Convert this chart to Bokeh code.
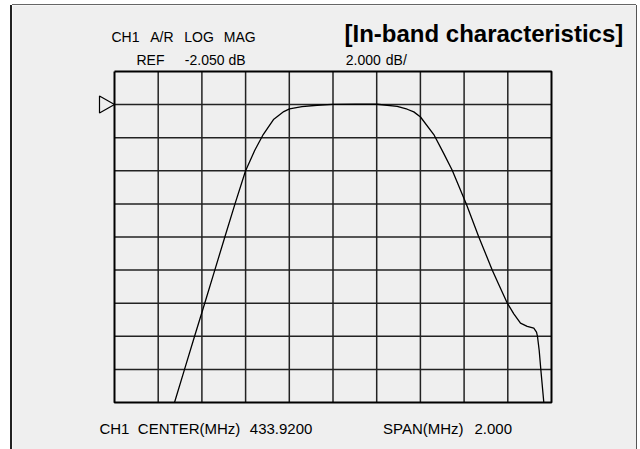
from bokeh.plotting import figure
from bokeh.models import Label
from bokeh.embed import file_html
from bokeh.resources import INLINE

# ---- instrument settings ----
CENTER_MHZ = 433.92
SPAN_MHZ = 2.0
REF_DB = -2.050
SCALE_DB = 2.0
REF_DIV = 1          # reference line is one division below the top
N_DIV = 10

# ---- measured trace (MHz, dB) ----
freq_mhz = [433.1946, 433.2405, 433.2865, 433.3330, 433.3790, 433.4250,
            433.4715, 433.5195, 433.5621, 433.6006, 433.6491, 433.6948, 433.7209,
            433.7781, 433.8477, 433.9177, 434.0230, 434.1223, 434.2138, 434.2596,
            434.2898, 434.3205, 434.3814, 434.4271, 434.4656, 434.5310, 434.5873,
            434.6486, 434.6770, 434.7173, 434.7475, 434.7781, 434.8088, 434.8390,
            434.8514, 434.8559, 434.8637, 434.8710, 434.8848]
mag_db = [-20.05, -18.05, -16.05, -14.05, -12.05, -10.05,
          -8.05, -6.06, -4.81, -3.86, -2.93, -2.47, -2.31,
          -2.17, -2.09, -2.04, -2.02, -2.03, -2.16, -2.33,
          -2.49, -2.80, -3.86, -5.01, -6.02, -8.08, -10.05,
          -12.04, -12.87, -14.04, -14.69, -15.25, -15.45, -15.56,
          -15.80, -16.06, -16.91, -18.04, -20.05]

header_words = ["CH1", "A/R", "LOG", "MAG"]
ref_words = ["REF", f"{REF_DB:.3f} dB"]
scale_words = [f"{SCALE_DB:.3f}", "dB/"]
footer_words = ["CH1", "CENTER(MHz)", f"{CENTER_MHZ:.4f}", "SPAN(MHz)", f"{SPAN_MHZ:.3f}"]
title_text = "[In-band characteristics]"

# ---- derived ranges ----
F_START = CENTER_MHZ - SPAN_MHZ / 2
F_STOP = CENTER_MHZ + SPAN_MHZ / 2
TOP_DB = REF_DB + REF_DIV * SCALE_DB
BOT_DB = TOP_DB - N_DIV * SCALE_DB

# ---- layout (page pixels) ----
FIG_X0, FIG_Y0 = 12, 5
FIG_W, FIG_H = 624, 444
GRID_L, GRID_T, GRID_W, GRID_H = 114, 71, 437, 331


def fx(px):
    return F_START + (px - GRID_L) / GRID_W * SPAN_MHZ


def fy(py):
    return TOP_DB - (py - GRID_T) / GRID_H * (N_DIV * SCALE_DB)


p = figure(width=FIG_W, height=FIG_H,
           x_range=(fx(FIG_X0), fx(FIG_X0 + FIG_W)),
           y_range=(fy(FIG_Y0 + FIG_H), fy(FIG_Y0)),
           output_backend="svg", toolbar_location=None,
           x_axis_location=None, y_axis_location=None,
           min_border=0, outline_line_color=None,
           background_fill_color="#efefef", border_fill_color="#efefef")
p.grid.visible = False
p.styles = {"margin-left": f"{FIG_X0}px", "margin-top": f"{FIG_Y0}px",
            "box-shadow": "-2px 0 0 0 #222, 0 -1px 0 0 #666, 1px 0 0 0 #555"}

# graticule
xticks = [F_START + i * SPAN_MHZ / N_DIV for i in range(N_DIV + 1)]
yticks = [BOT_DB + i * SCALE_DB for i in range(N_DIV + 1)]
p.segment(x0=xticks[1:-1], y0=[BOT_DB] * (N_DIV - 1), x1=xticks[1:-1], y1=[TOP_DB] * (N_DIV - 1),
          line_color="#222222", line_width=1.5)
p.segment(x0=[F_START] * (N_DIV - 1), y0=yticks[1:-1], x1=[F_STOP] * (N_DIV - 1), y1=yticks[1:-1],
          line_color="#222222", line_width=1.5)
p.line([F_START, F_STOP, F_STOP, F_START, F_START], [TOP_DB, TOP_DB, BOT_DB, BOT_DB, TOP_DB],
       line_color="black", line_width=2)

# trace
p.line(freq_mhz, mag_db, line_color="black", line_width=1.3)

# reference marker
tri_w = 15 / GRID_W * SPAN_MHZ
tri_h = 8.5 / GRID_H * (N_DIV * SCALE_DB)
p.patch([F_START - tri_w, F_START, F_START - tri_w], [REF_DB + tri_h, REF_DB, REF_DB - tri_h],
        fill_alpha=0, line_color="black", line_width=1.2)

FONT = "Liberation Sans"


def put(words, xs, y, size, bold=False):
    for w, x in zip(words, xs):
        p.add_layout(Label(x=fx(x), y=fy(y), text=w, text_font=FONT,
                           text_font_size=size, text_color="black",
                           text_font_style="bold" if bold else "normal",
                           text_align="left", text_baseline="middle"))


put(header_words, [111, 149.7, 183.7, 223.3], 36, "14px")
put(ref_words, [136, 184.3], 59.5, "14px")
put(scale_words, [345.3, 385.3], 59.5, "14px")
put(footer_words, [98.9, 137.3, 249.3, 382.5, 474], 428, "15px")
put([title_text], [344], 33, "24px", bold=True)

open("out.html", "w").write(file_html(p, INLINE))
